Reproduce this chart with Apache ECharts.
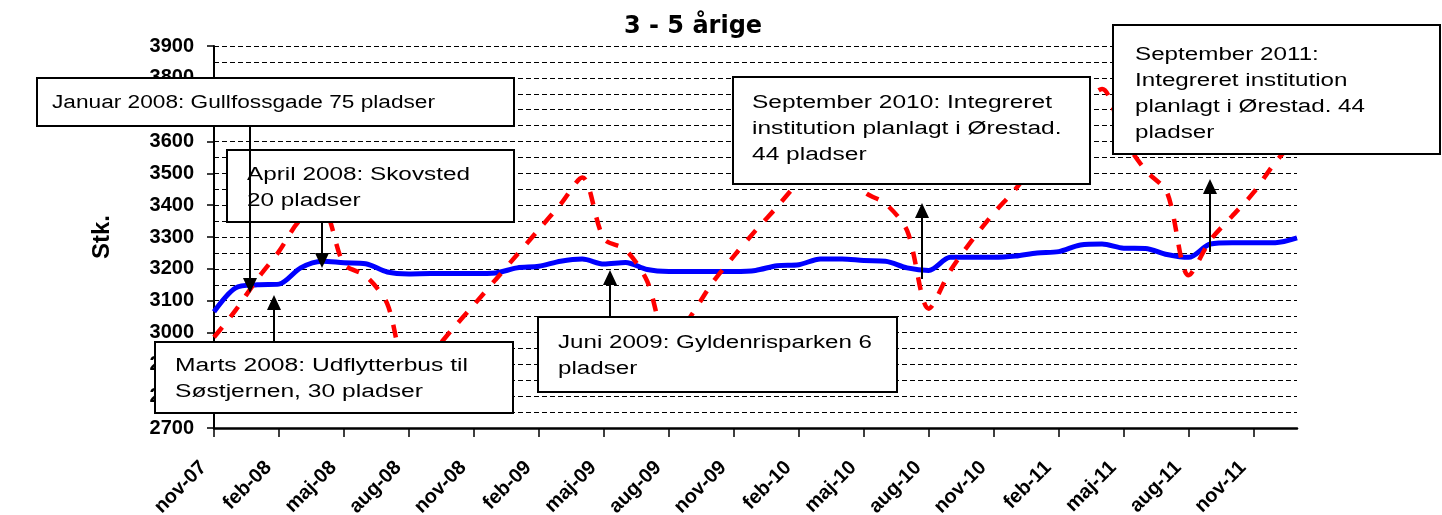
<!DOCTYPE html>
<html>
<head>
<meta charset="utf-8">
<script src="https://cdn.jsdelivr.net/npm/echarts@6/dist/echarts.min.js"></script>
<style>
    html, body { margin: 0; padding: 0; background: #fff; }
    #chart { width: 1442px; height: 515px; }
</style>
</head>
<body>
<div id="chart"></div>
<script>
const categories = ['nov-07', 'dec-07',
    'jan-08', 'feb-08', 'mar-08', 'apr-08', 'maj-08', 'jun-08', 'jul-08', 'aug-08', 'sep-08', 'okt-08', 'nov-08', 'dec-08',
    'jan-09', 'feb-09', 'mar-09', 'apr-09', 'maj-09', 'jun-09', 'jul-09', 'aug-09', 'sep-09', 'okt-09', 'nov-09', 'dec-09',
    'jan-10', 'feb-10', 'mar-10', 'apr-10', 'maj-10', 'jun-10', 'jul-10', 'aug-10', 'sep-10', 'okt-10', 'nov-10', 'dec-10',
    'jan-11', 'feb-11', 'mar-11', 'apr-11', 'maj-11', 'jun-11', 'jul-11', 'aug-11', 'sep-11', 'okt-11', 'nov-11', 'dec-11',
    'jan-12'];

// blå, fuldt optrukket linje
const blueValues = [3065, 3140,
    3150, 3152, 3203, 3224, 3219, 3216, 3190, 3184, 3185, 3185, 3185, 3187,
    3203, 3208, 3224, 3231, 3215, 3220, 3198, 3192, 3192, 3192, 3192, 3195,
    3210, 3213, 3231, 3231, 3226, 3224, 3203, 3195, 3236, 3236, 3236, 3240,
    3250, 3254, 3275, 3278, 3265, 3264, 3245, 3236, 3278, 3282, 3282, 3282,
    3297];

// rød, stiplet linje
const redValues = [2985, 3070,
    3168, 3255, 3355, 3385, 3215, 3178, 3090, 2860, 2930, 3010, 3087, 3166,
    3245, 3324, 3403, 3487, 3295, 3260, 3161, 2960, 3050, 3155, 3240, 3320,
    3395, 3475, 3550, 3565, 3444, 3405, 3320, 3075, 3195, 3290, 3375, 3450,
    3540, 3630, 3710, 3765, 3610, 3510, 3440, 3180, 3290, 3365, 3440, 3535,
    3610];

// tekstbokse med pile: box = [x, y, b, h], arrow = [x, start, spids]
const notes = [
    { lines: ['Januar 2008: Gullfossgade 75 pladser'], box: [37, 78, 477, 48], textAt: [52, 90], fit: 0, width: 383, arrow: [250, 126, 293] },
    { lines: ['April 2008: Skovsted', '20 pladser'], box: [227, 150, 287, 72], textAt: [247, 162], fit: 0, width: 223, arrow: [322, 222, 268] },
    { lines: ['Marts 2008: Udflytterbus til', 'Søstjernen, 30 pladser'], box: [155, 342, 358, 71], textAt: [175, 353], fit: 0, width: 293, arrow: [274, 342, 295] },
    { lines: ['Juni 2009: Gyldenrisparken 6', 'pladser'], box: [538, 317, 359, 75], textAt: [558, 330], fit: 0, width: 314, arrow: [610, 317, 270] },
    { lines: ['September 2010: Integreret', 'institution planlagt i Ørestad.', '44 pladser'], box: [733, 77, 357, 107], textAt: [752, 90], fit: 0, width: 300, arrow: [922, 279, 203] },
    { lines: ['September 2011:', 'Integreret institution', 'planlagt i Ørestad. 44', 'pladser'], box: [1113, 25, 327, 129], textAt: [1135, 42], fit: 2, width: 230, arrow: [1210, 252, 179] }
];

const fontFamily = '"Liberation Sans", Arial, sans-serif';
const noteFont = '18px ' + fontFamily;

const measureCtx = document.createElement('canvas').getContext('2d');
measureCtx.font = noteFont;

function noteGraphic(note) {
    const scale = note.width / measureCtx.measureText(note.lines[note.fit]).width;
    const ax = note.arrow[0];
    const start = note.arrow[1];
    const tip = note.arrow[2];
    const dir = tip < start ? 1 : -1;
    return {
        type: 'group',
        children: [
            {
                type: 'rect', z: 100,
                shape: { x: note.box[0], y: note.box[1], width: note.box[2], height: note.box[3] },
                style: { fill: '#fff', stroke: '#000', lineWidth: 2 }
            },
            {
                type: 'text', z: 101,
                x: note.textAt[0], y: note.textAt[1], scaleX: scale,
                style: {
                    text: note.lines.join('\n'),
                    font: noteFont,
                    lineHeight: 26,
                    fill: '#000',
                    align: 'left',
                    verticalAlign: 'top'
                }
            },
            {
                type: 'line', z: 101,
                shape: { x1: ax, y1: start, x2: ax, y2: tip + dir * 10 },
                style: { stroke: '#000', lineWidth: 2 }
            },
            {
                type: 'polygon', z: 101,
                shape: { points: [[ax, tip], [ax - 7, tip + dir * 15], [ax + 7, tip + dir * 15]] },
                style: { fill: '#000' }
            }
        ]
    };
}

const chart = echarts.init(document.getElementById('chart'));

const gridLineStyle = { color: '#000', width: 1, type: [5, 3] };

chart.setOption({
    animation: false,
    backgroundColor: '#fff',
    title: {
        text: '3 - 5 årige',
        left: 624,
        top: 15,
        padding: 0,
        textStyle: { fontFamily: '"DejaVu Sans", sans-serif', fontWeight: 'bold', fontSize: 24, color: '#000' }
    },
    grid: { left: 214, right: 145, top: 46, bottom: 87, outerBoundsMode: 'none' },
    xAxis: {
        type: 'category',
        data: categories,
        boundaryGap: false,
        axisLine: { show: true, lineStyle: { color: '#000', width: 2.5 } },
        axisTick: { show: true, interval: 2, length: 9, lineStyle: { color: '#000', width: 1.5 } },
        axisLabel: {
            interval: 2, rotate: 45, margin: 26,
            padding: [0, 15, 0, 0],
            fontFamily: fontFamily, fontWeight: 'bold', fontSize: 20, color: '#000'
        },
        splitLine: { show: false }
    },
    yAxis: {
        type: 'value',
        min: 2700,
        max: 3900,
        interval: 100,
        name: 'Stk.',
        nameLocation: 'middle',
        nameGap: 100,
        nameRotate: 90,
        nameTextStyle: { fontFamily: fontFamily, fontWeight: 'bold', fontSize: 24, color: '#000' },
        axisLine: { show: true, lineStyle: { color: '#000', width: 2 } },
        axisTick: { show: true, length: 7, lineStyle: { color: '#000', width: 1.5 } },
        axisLabel: {
            margin: 20, fontFamily: fontFamily, fontWeight: 'bold', fontSize: 20, color: '#000',
            formatter: function (value) {
                return String(value);
            }
        },
        splitLine: { show: true, lineStyle: gridLineStyle },
        minorTick: { show: false, splitNumber: 2 },
        minorSplitLine: { show: true, lineStyle: gridLineStyle }
    },
    series: [
        {
            type: 'line',
            data: blueValues,
            smooth: 0.3,
            symbol: 'none',
            z: 3,
            lineStyle: { color: '#0000ff', width: 5 }
        },
        {
            type: 'line',
            data: redValues,
            smooth: 0.3,
            symbol: 'none',
            z: 4,
            lineStyle: { color: '#ff0000', width: 4.5, type: [13, 13], cap: 'butt' }
        }
    ],
    graphic: notes.map(noteGraphic)
});
</script>
</body>
</html>
